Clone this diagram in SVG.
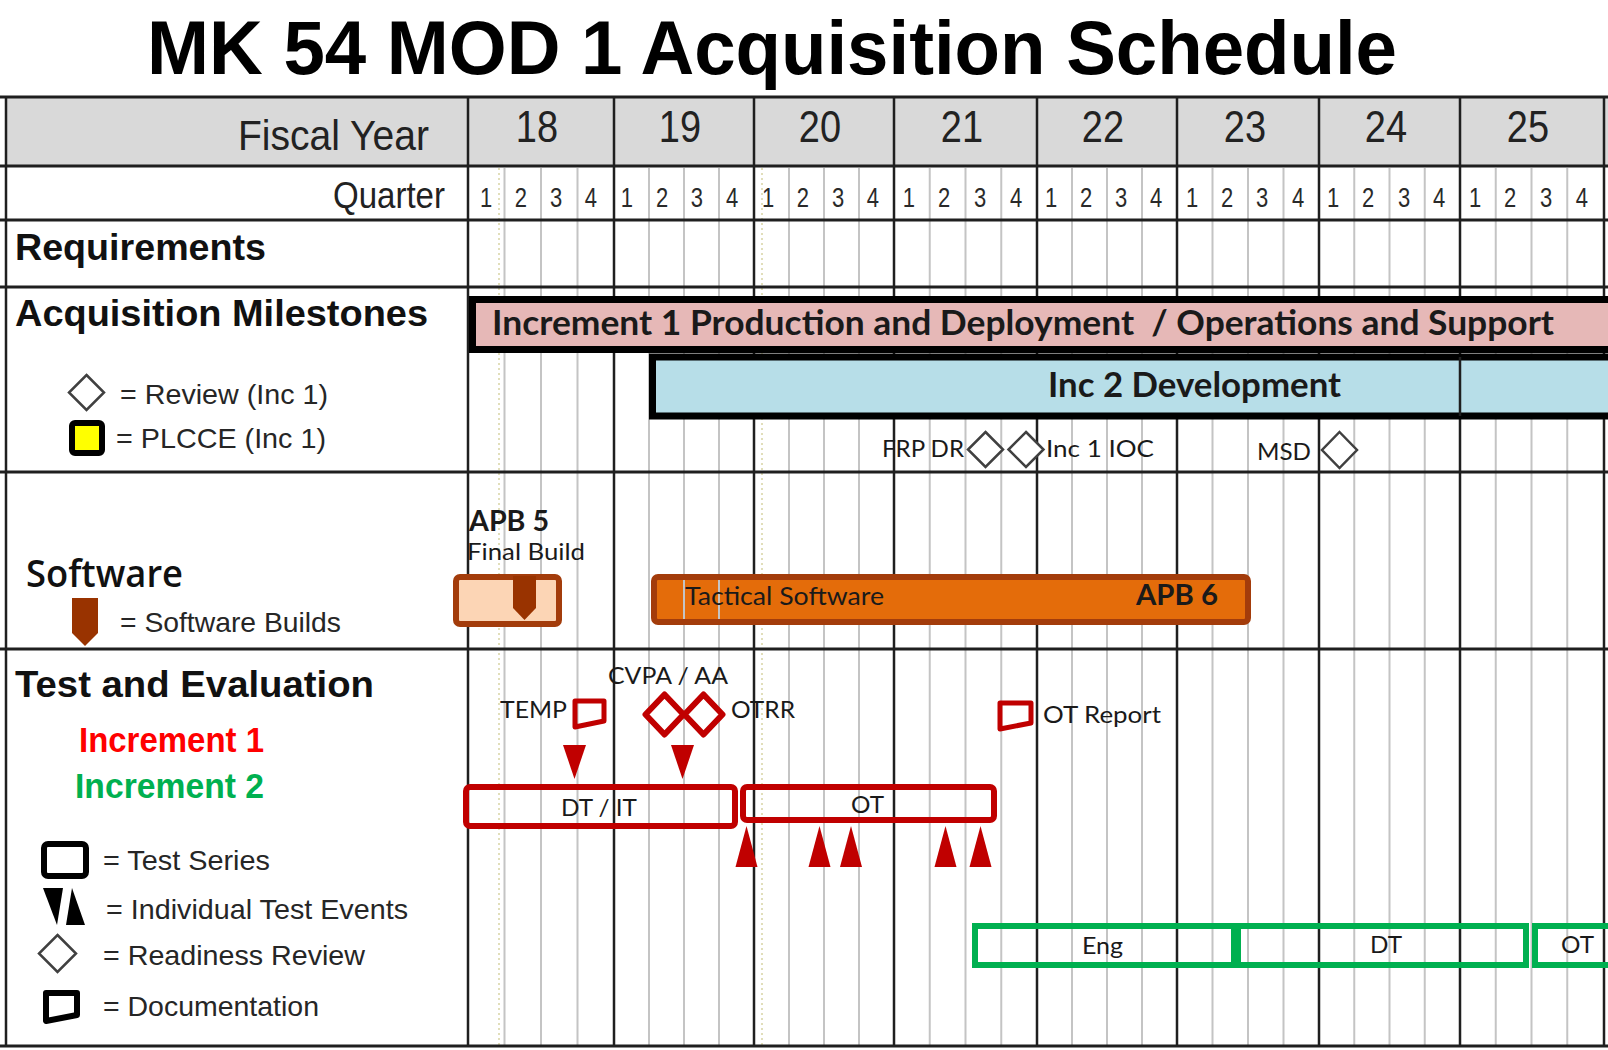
<svg xmlns="http://www.w3.org/2000/svg" width="1608" height="1050" viewBox="0 0 1608 1050">
<style>
.hl{stroke:#1f1f1f;stroke-width:3}
.yl{stroke:#1f1f1f;stroke-width:2.5}
.ql{stroke:#c4c4c4;stroke-width:2}
.dl{stroke:#d8d4a4;stroke-width:1.5;stroke-dasharray:2 3}
.hd{font-family:"Liberation Sans",Arial,sans-serif;font-weight:bold;font-size:37px;fill:#111}
.lg{font-family:"Liberation Sans",Arial,sans-serif;font-size:28.5px;fill:#262626}
.hx{font-family:"Liberation Sans",Arial,sans-serif;fill:#222}
.cb{font-family:Lato,"Open Sans",sans-serif;fill:#1a1a1a}
.b{font-weight:bold}
.rd{stroke:#c00000;stroke-width:6;fill:none;stroke-linejoin:round}
.rf{fill:#c00000}
.gr{stroke:#00b050;stroke-width:6;fill:none}
.dia{fill:#fff;stroke:#404040;stroke-width:2.5}
.qd{font-family:"Liberation Sans",Arial,sans-serif;font-size:22px;fill:#2a2a2a;text-anchor:middle}
.yr{font-family:"Liberation Sans",Arial,sans-serif;font-size:38px;fill:#222;text-anchor:middle}
</style>
<rect width="1608" height="1050" fill="#fff"/>
<text x="772" y="74" text-anchor="middle" font-family="'Liberation Sans',Arial,sans-serif" font-weight="bold" font-size="76" textLength="1250" lengthAdjust="spacingAndGlyphs" fill="#000">MK 54 MOD 1 Acquisition Schedule</text>

<g id="grid">
<rect x="6" y="97" width="1602" height="69" fill="#d9d9d9"/>
<g class="ql">
<line x1="504.5" y1="168" x2="504.5" y2="1046"/><line x1="541" y1="168" x2="541" y2="1046"/><line x1="577.5" y1="168" x2="577.5" y2="1046"/>
<line x1="649" y1="168" x2="649" y2="1046"/><line x1="684" y1="168" x2="684" y2="1046"/><line x1="719" y1="168" x2="719" y2="1046"/>
<line x1="789" y1="168" x2="789" y2="1046"/><line x1="824" y1="168" x2="824" y2="1046"/><line x1="859" y1="168" x2="859" y2="1046"/>
<line x1="929.75" y1="168" x2="929.75" y2="1046"/><line x1="965.5" y1="168" x2="965.5" y2="1046"/><line x1="1001.25" y1="168" x2="1001.25" y2="1046"/>
<line x1="1072" y1="168" x2="1072" y2="1046"/><line x1="1107" y1="168" x2="1107" y2="1046"/><line x1="1142" y1="168" x2="1142" y2="1046"/>
<line x1="1212.5" y1="168" x2="1212.5" y2="1046"/><line x1="1248" y1="168" x2="1248" y2="1046"/><line x1="1283.5" y1="168" x2="1283.5" y2="1046"/>
<line x1="1354.25" y1="168" x2="1354.25" y2="1046"/><line x1="1389.5" y1="168" x2="1389.5" y2="1046"/><line x1="1424.75" y1="168" x2="1424.75" y2="1046"/>
<line x1="1495.75" y1="168" x2="1495.75" y2="1046"/><line x1="1531.5" y1="168" x2="1531.5" y2="1046"/><line x1="1567.25" y1="168" x2="1567.25" y2="1046"/>
</g>
<line class="dl" x1="499" y1="168" x2="499" y2="1046"/>
<line class="dl" x1="762" y1="168" x2="762" y2="1046"/>
<g class="yl">
<line x1="6" y1="97" x2="6" y2="1046"/>
<line x1="468" y1="97" x2="468" y2="1046"/><line x1="614" y1="97" x2="614" y2="1046"/><line x1="754" y1="97" x2="754" y2="1046"/>
<line x1="894" y1="97" x2="894" y2="1046"/><line x1="1037" y1="97" x2="1037" y2="1046"/><line x1="1177" y1="97" x2="1177" y2="1046"/>
<line x1="1319" y1="97" x2="1319" y2="1046"/><line x1="1460" y1="97" x2="1460" y2="1046"/><line x1="1604" y1="97" x2="1604" y2="1046"/>
</g>
<g class="hl">
<line x1="0" y1="97" x2="1608" y2="97"/><line x1="0" y1="166" x2="1608" y2="166"/><line x1="0" y1="220" x2="1608" y2="220"/>
<line x1="0" y1="287" x2="1608" y2="287"/><line x1="0" y1="472" x2="1608" y2="472"/><line x1="0" y1="649" x2="1608" y2="649"/>
<line x1="0" y1="1046" x2="1608" y2="1046"/>
</g>
</g>

<g id="header">
<g transform="translate(0,149.5) scale(1,1.16)"><text class="hx" x="429" y="0" font-size="37" text-anchor="end" textLength="191" lengthAdjust="spacingAndGlyphs">Fiscal Year</text></g>
<g transform="translate(0,142) scale(1,1.15)">
<text class="yr" x="537" y="0">18</text><text class="yr" x="680" y="0">19</text><text class="yr" x="820" y="0">20</text><text class="yr" x="962" y="0">21</text>
<text class="yr" x="1103" y="0">22</text><text class="yr" x="1245" y="0">23</text><text class="yr" x="1386" y="0">24</text><text class="yr" x="1528" y="0">25</text>
</g>
<g transform="translate(0,208) scale(1,1.16)"><text class="hx" x="445" y="0" font-size="32" text-anchor="end" textLength="112" lengthAdjust="spacingAndGlyphs">Quarter</text></g>
<g transform="translate(0,207) scale(1,1.25)">
<text class="qd" x="486" y="0">1</text><text class="qd" x="521" y="0">2</text><text class="qd" x="556" y="0">3</text><text class="qd" x="591" y="0">4</text>
<text class="qd" x="627" y="0">1</text><text class="qd" x="662" y="0">2</text><text class="qd" x="697" y="0">3</text><text class="qd" x="732" y="0">4</text>
<text class="qd" x="768" y="0">1</text><text class="qd" x="803" y="0">2</text><text class="qd" x="838" y="0">3</text><text class="qd" x="873" y="0">4</text>
<text class="qd" x="909" y="0">1</text><text class="qd" x="944" y="0">2</text><text class="qd" x="980" y="0">3</text><text class="qd" x="1016" y="0">4</text>
<text class="qd" x="1051" y="0">1</text><text class="qd" x="1086" y="0">2</text><text class="qd" x="1121" y="0">3</text><text class="qd" x="1156" y="0">4</text>
<text class="qd" x="1192" y="0">1</text><text class="qd" x="1227" y="0">2</text><text class="qd" x="1262" y="0">3</text><text class="qd" x="1298" y="0">4</text>
<text class="qd" x="1333" y="0">1</text><text class="qd" x="1368" y="0">2</text><text class="qd" x="1404" y="0">3</text><text class="qd" x="1439" y="0">4</text>
<text class="qd" x="1475" y="0">1</text><text class="qd" x="1510" y="0">2</text><text class="qd" x="1546" y="0">3</text><text class="qd" x="1582" y="0">4</text>
</g>
</g>

<g id="row-labels">
<text class="hd" x="15" y="260" textLength="251" lengthAdjust="spacingAndGlyphs">Requirements</text>
<text class="hd" x="15" y="326" textLength="413" lengthAdjust="spacingAndGlyphs">Acquisition Milestones</text>
<text x="26" y="587" font-family="'Open Sans',sans-serif" font-weight="600" font-size="37" fill="#111" textLength="157" lengthAdjust="spacingAndGlyphs">Software</text>
<text class="hd" x="15" y="697" textLength="359" lengthAdjust="spacingAndGlyphs">Test and Evaluation</text>
<text class="hd" x="79" y="752" style="fill:#ff0000;font-size:35px" textLength="185" lengthAdjust="spacingAndGlyphs">Increment 1</text>
<text class="hd" x="75" y="798" style="fill:#00b050;font-size:35px" textLength="189" lengthAdjust="spacingAndGlyphs">Increment 2</text>
</g>

<g id="legend">
<polygon class="dia" points="86.5,375 104,392.5 86.5,410 69,392.5"/>
<text class="lg" x="120" y="404" textLength="208" lengthAdjust="spacingAndGlyphs">= Review (Inc 1)</text>
<rect x="72" y="423" width="30" height="30" rx="3" fill="#ffff00" stroke="#000" stroke-width="6"/>
<text class="lg" x="116" y="448" textLength="210" lengthAdjust="spacingAndGlyphs">= PLCCE (Inc 1)</text>
<path d="M72,598 H98 V633 L85,646 L72,633 Z" fill="#993300"/>
<text class="lg" x="120" y="632" textLength="221" lengthAdjust="spacingAndGlyphs">= Software Builds</text>
<rect x="44" y="844" width="42" height="32" rx="4" fill="none" stroke="#000" stroke-width="6"/>
<text class="lg" x="103" y="870" textLength="167" lengthAdjust="spacingAndGlyphs">= Test Series</text>
<polygon points="43,888 63,888 57,925" fill="#000"/>
<polygon points="66,925 85,925 72,888" fill="#000"/>
<text class="lg" x="106" y="919" textLength="302" lengthAdjust="spacingAndGlyphs">= Individual Test Events</text>
<polygon class="dia" points="57.5,935 76,953.5 57.5,972 39,953.5"/>
<text class="lg" x="103" y="965" textLength="262" lengthAdjust="spacingAndGlyphs">= Readiness Review</text>
<path d="M46,993 H77 V1015 L46,1021 Z" fill="none" stroke="#000" stroke-width="6" stroke-linejoin="round"/>
<text class="lg" x="103" y="1016" textLength="216" lengthAdjust="spacingAndGlyphs">= Documentation</text>
</g>

<g id="inc1-production">
<rect x="472.5" y="299.5" width="1150" height="50" fill="#e6b8b7" stroke="#000" stroke-width="7"/>
<text class="cb b" x="492" y="335" font-size="34" textLength="1062" lengthAdjust="spacingAndGlyphs" style="white-space:pre">Increment 1 Production and Deployment  / Operations and Support</text>
</g>
<g id="inc2-development">
<rect x="652.5" y="357" width="970" height="59" fill="#b7dee8" stroke="#000" stroke-width="7"/>
<line class="yl" x1="1460" y1="357" x2="1460" y2="416"/>
<text class="cb b" x="1048" y="397" font-size="34" textLength="293" lengthAdjust="spacingAndGlyphs">Inc 2 Development</text>
</g>
<g id="frp-dr">
<text class="cb" x="882" y="457" font-size="24" textLength="82" lengthAdjust="spacingAndGlyphs" fill="#262626">FRP DR</text>
<polygon class="dia" points="985.5,432 1003,449.5 985.5,467 968,449.5"/>
</g>
<g id="inc1-ioc">
<polygon class="dia" points="1026,432 1043.5,449.5 1026,467 1008.5,449.5"/>
<text class="cb" x="1046" y="457" font-size="24" textLength="108" lengthAdjust="spacingAndGlyphs" fill="#262626">Inc 1 IOC</text>
</g>
<g id="msd">
<text class="cb" x="1257" y="460" font-size="24" textLength="54" lengthAdjust="spacingAndGlyphs" fill="#262626">MSD</text>
<polygon class="dia" points="1339.5,432 1357,450 1339.5,468 1322,450"/>
</g>

<g id="apb5">
<text class="cb b" x="469" y="531" font-size="28" textLength="80" lengthAdjust="spacingAndGlyphs">APB 5</text>
<text class="cb" x="467" y="560" font-size="24" textLength="118" lengthAdjust="spacingAndGlyphs">Final Build</text>
<rect x="456" y="577" width="103" height="47" rx="4" fill="#fcd5b5" stroke="#a33c0b" stroke-width="6"/>
<path d="M513,576 H536 V608 L524.5,620 L513,608 Z" fill="#993300"/>
</g>
<g id="tactical-software">
<rect x="654" y="577" width="594" height="45" rx="4" fill="#e46c0a" stroke="#a33c0b" stroke-width="6"/>
<line class="ql" x1="684" y1="580" x2="684" y2="619"/><line class="ql" x1="719" y1="580" x2="719" y2="619"/>
<text class="cb" x="685" y="605" font-size="25" textLength="199" lengthAdjust="spacingAndGlyphs">Tactical Software</text>
<text class="cb b" x="1136" y="605" font-size="29" textLength="82" lengthAdjust="spacingAndGlyphs">APB 6</text>
</g>

<g id="temp">
<text class="cb" x="500" y="718" font-size="23" textLength="67" lengthAdjust="spacingAndGlyphs">TEMP</text>
<path class="rd" d="M575,701 H604 V721 L575,727 Z" style="stroke-width:5"/>
<polygon class="rf" points="563,745 586,745 574.5,779"/>
</g>
<g id="cvpa-otrr">
<text class="cb" x="608" y="684" font-size="23" textLength="120" lengthAdjust="spacingAndGlyphs">CVPA / AA</text>
<polygon class="rd" points="664.5,694.5 683.5,714.5 664.5,734.5 645.5,714.5" style="fill:#fff"/>
<polygon class="rd" points="703.5,694.5 722.5,714.5 703.5,734.5 684.5,714.5" style="fill:#fff"/>
<text class="cb" x="731" y="718" font-size="23" textLength="64" lengthAdjust="spacingAndGlyphs">OTRR</text>
<polygon class="rf" points="671,745 694,745 682.5,779"/>
</g>
<g id="dt-it">
<rect class="rd" x="466" y="787" width="269" height="39" rx="4"/>
<text class="cb" x="561" y="816" font-size="23" textLength="76" lengthAdjust="spacingAndGlyphs">DT / IT</text>
</g>
<g id="ot-inc1">
<rect class="rd" x="743" y="787" width="251" height="33" rx="4"/>
<text class="cb" x="851" y="813" font-size="23" textLength="33" lengthAdjust="spacingAndGlyphs">OT</text>
<polygon class="rf" points="735.5,867 757.5,867 746.5,826"/>
<polygon class="rf" points="808.5,867 830.5,867 819.5,826"/>
<polygon class="rf" points="840,867 862,867 851,826"/>
<polygon class="rf" points="934.5,867 956.5,867 945.5,826"/>
<polygon class="rf" points="969.5,867 991.5,867 980.5,826"/>
</g>
<g id="ot-report">
<path class="rd" d="M1000,703 H1031 V723 L1000,729 Z" style="stroke-width:5"/>
<text class="cb" x="1043" y="723" font-size="23" textLength="118" lengthAdjust="spacingAndGlyphs">OT Report</text>
</g>
<g id="eng-inc2">
<rect class="gr" x="975" y="926" width="259" height="39"/>
<text class="cb" x="1082" y="954" font-size="23" textLength="41" lengthAdjust="spacingAndGlyphs">Eng</text>
</g>
<g id="dt-inc2">
<rect class="gr" x="1238" y="926" width="288" height="39"/>
<text class="cb" x="1370" y="953" font-size="23" textLength="32" lengthAdjust="spacingAndGlyphs">DT</text>
</g>
<g id="ot-inc2">
<rect class="gr" x="1535" y="926" width="85" height="39"/>
<text class="cb" x="1561" y="953" font-size="23" textLength="33" lengthAdjust="spacingAndGlyphs">OT</text>
</g>
</svg>
